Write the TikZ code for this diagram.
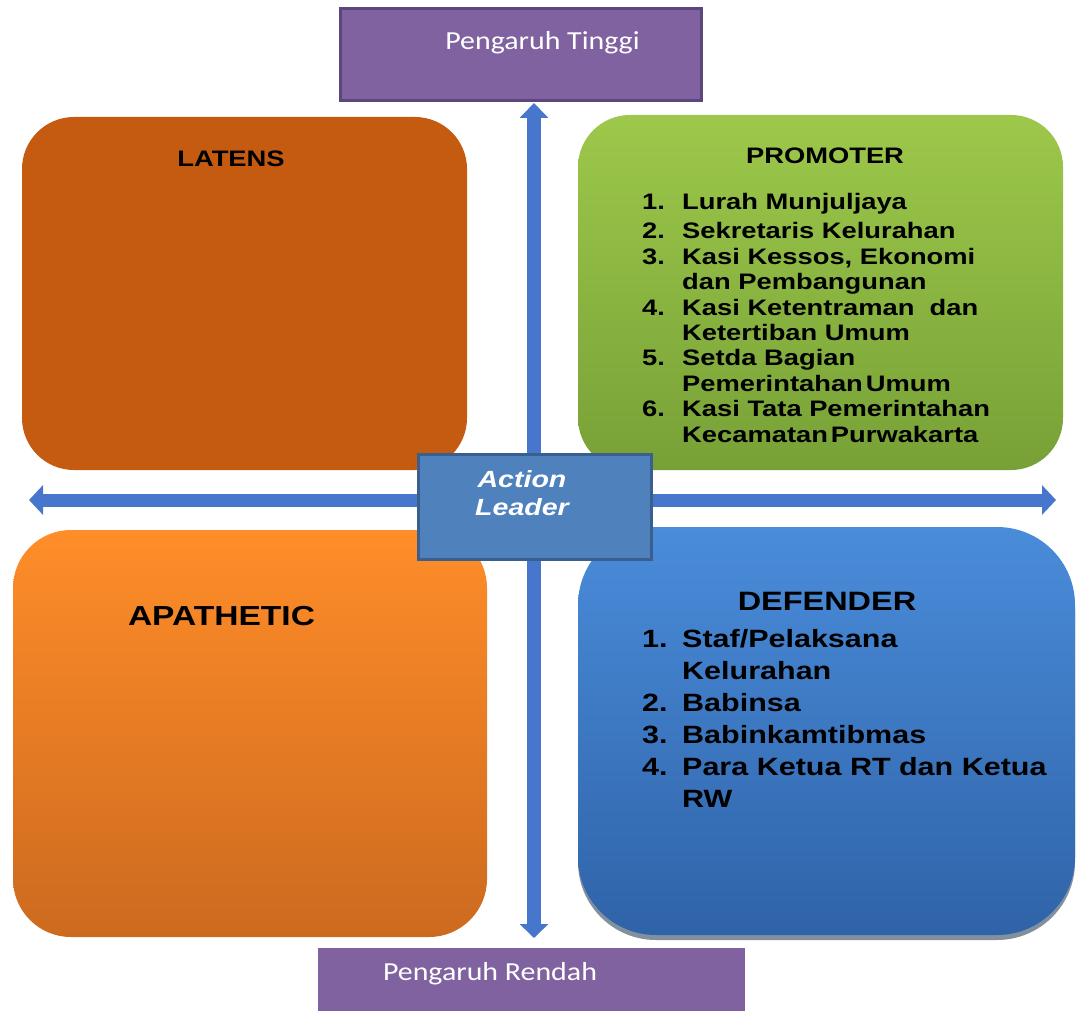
\documentclass[tikz,border=0pt]{standalone}
\usepackage{fontspec}
\setmainfont[FakeStretch=1.22]{Liberation Sans}
\newfontfamily\labelfont[FakeStretch=1.15]{Carlito}
\usetikzlibrary{arrows.meta,shadows}

\definecolor{latensfill}{HTML}{C55A11}
\definecolor{promtop}{HTML}{9DC84B}
\definecolor{prombot}{HTML}{77A136}
\definecolor{deftop}{HTML}{4A8CDA}
\definecolor{defbot}{HTML}{2F63A8}
\definecolor{apatop}{HTML}{FF8D29}
\definecolor{apabot}{HTML}{CC6A1F}
\definecolor{purplefill}{HTML}{8062A0}
\definecolor{purpleline}{HTML}{5C477C}
\definecolor{axisblue}{HTML}{4777CC}
\definecolor{leaderfill}{HTML}{4F81BD}
\definecolor{leaderline}{HTML}{3A5F8E}
\definecolor{shadowblue}{HTML}{1C3550}

\tikzset{
  quad/.style={rectangle, inner sep=0pt, draw=none},
  purplebox/.style={rectangle, inner sep=0pt, fill=purplefill},
  purpletext/.style={inner sep=0pt, text=white, font=\labelfont\fontsize{26}{30}\selectfont},
  title/.style={inner sep=0pt, font=\bfseries\fontsize{22.4}{26}\selectfont},
  listtext/.style={inner sep=0pt, anchor=base west},
  axis/.style={draw=axisblue, line cap=butt},
  leaderbox/.style={rectangle, inner sep=0pt, fill=leaderfill, draw=leaderline, line width=3pt},
}

\begin{document}
\begin{tikzpicture}[x=1pt,y=-1pt]
\useasboundingbox[fill=white] (0,0) rectangle (1076,1011);

% quadrant boxes
\node[quad, fill=latensfill, rounded corners=52pt,
      minimum width=445pt, minimum height=353pt] (latens) at (244.5,293.5) {};
\node[quad, top color=promtop, bottom color=prombot, rounded corners=52pt,
      minimum width=485pt, minimum height=355pt] (promoter) at (820.5,292.5) {};
\node[quad, top color=apatop, bottom color=apabot, rounded corners=58pt,
      minimum width=474pt, minimum height=407pt] (apathetic) at (250,733.5) {};
\node[quad, top color=deftop, bottom color=defbot, rounded corners=78pt,
      drop shadow={shadow xshift=0pt, shadow yshift=-5pt, fill=shadowblue, opacity=0.55},
      minimum width=497pt, minimum height=408pt] (defender) at (826.5,731) {};

% influence labels
\node[purplebox, draw=purpleline, line width=3.5pt,
      minimum width=361pt, minimum height=92pt] (high) at (521,54.5) {};
\node[purpletext, anchor=base] (hightext) at (542.5,50) {Pengaruh Tinggi};
\node[purplebox, minimum width=427pt, minimum height=70pt] (low) at (531.5,983) {};
\node[purpletext, anchor=base] (lowtext) at (490,980) {Pengaruh Rendah};

% axes
\coordinate (vtop) at (534,103);
\coordinate (vbot) at (534,938);
\coordinate (hleft) at (29,500);
\coordinate (hright) at (1056,500);
\draw[axis, line width=14pt,
      {Triangle[width=28pt,length=15pt]}-{Triangle[width=28pt,length=14pt]}] (vtop) -- (vbot);
\draw[axis, line width=13pt,
      {Triangle[width=29pt,length=14pt]}-{Triangle[width=29pt,length=14pt]}] (hleft) -- (hright);

% centre box
\node[leaderbox, minimum width=233pt, minimum height=105pt] (leader) at (535,507) {};
\node[inner sep=0pt, anchor=base, text=white,
      font=\bfseries\itshape\fontsize{23.4}{28}\selectfont] (leadertext) at (522,487)
  {\begin{tabular}[t]{@{}c@{}}Action\\Leader\end{tabular}};

% titles
\node[title, anchor=base] (latenstitle) at (231,167) {LATENS};
\node[title, anchor=base] (promotertitle) at (825,164) {PROMOTER};
\node[title, anchor=base, font=\bfseries\fontsize{27.5}{31}\selectfont] (apathetictitle) at (221.5,625) {APATHETIC};
\node[title, anchor=base, font=\bfseries\fontsize{26.6}{31}\selectfont] (defendertitle) at (827,610) {DEFENDER};

% member lists
\node[listtext, font=\bfseries\fontsize{22.4}{25.4}\selectfont] (promoterlist) at (642,210)
  {\begin{tabular}[t]{@{}p{40pt}@{}l@{}}
   1. & Lurah Munjuljaya\\[3.6pt]
   2. & Sekretaris Kelurahan\\
   3. & Kasi Kessos, Ekonomi\\
      & dan Pembangunan\\
   4. & Kasi Ketentraman\ \ dan\\
      & Ketertiban Umum\\
   5. & Setda Bagian\\
      & Pemerintahan\kern3pt Umum\\
   6. & Kasi Tata Pemerintahan\\
      & Kecamatan\kern3pt Purwakarta
   \end{tabular}};
\node[listtext, font=\bfseries\fontsize{25}{32}\selectfont] (defenderlist) at (642,647)
  {\begin{tabular}[t]{@{}p{40pt}@{}l@{}}
   1. & Staf/Pelaksana\\
      & Kelurahan\\
   2. & Babinsa\\
   3. & Babinkamtibmas\\
   4. & Para Ketua RT dan Ketua\\
      & RW
   \end{tabular}};
\end{tikzpicture}
\end{document}
